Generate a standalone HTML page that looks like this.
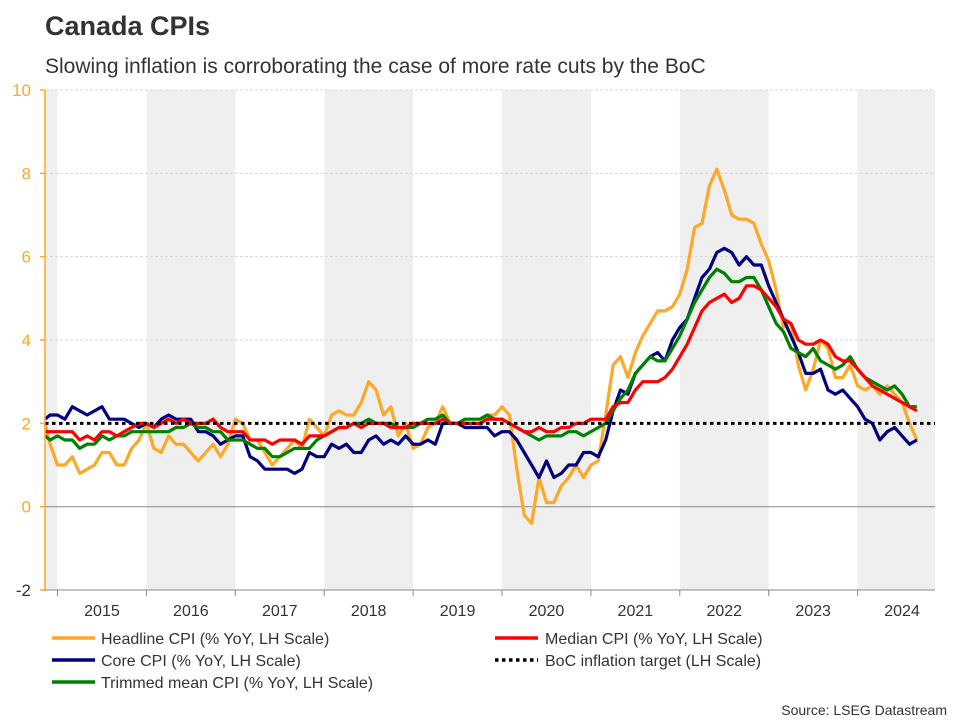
<!DOCTYPE html>
<html><head><meta charset="utf-8"><style>
body{margin:0;background:#fff;}
svg{display:block;font-family:"Liberation Sans",Arial,sans-serif;}
</style></head><body>
<svg id="c" width="960" height="720" viewBox="0 0 960 720" xmlns="http://www.w3.org/2000/svg">
<rect width="960" height="720" fill="#fff"/>
<text x="45" y="35" font-size="27" font-weight="bold" fill="#333">Canada CPIs</text>
<text x="45" y="73" font-size="21" fill="#333">Slowing inflation is corroborating the case of more rate cuts by the BoC</text>
<g id="bands" fill="#efefef"></g>
<g id="grid"></g>
<g id="series" fill="none" stroke-width="3.2" stroke-linejoin="round"></g>
<g id="axes"></g>
<g font-size="16" fill="#333">
<line x1="52" y1="638" x2="95" y2="638" stroke="#FFA726" stroke-width="3.5"/>
<text x="101" y="644">Headline CPI (% YoY, LH Scale)</text>
<line x1="52" y1="660" x2="95" y2="660" stroke="#000080" stroke-width="3.5"/>
<text x="101" y="666">Core CPI (% YoY, LH Scale)</text>
<line x1="52" y1="682" x2="95" y2="682" stroke="#008000" stroke-width="3.5"/>
<text x="101" y="688">Trimmed mean CPI (% YoY, LH Scale)</text>
<line x1="495" y1="638" x2="538" y2="638" stroke="#ff0000" stroke-width="3.5"/>
<text x="545" y="644">Median CPI (% YoY, LH Scale)</text>
<line x1="495" y1="660" x2="538" y2="660" stroke="#000" stroke-width="3.5" stroke-dasharray="3.5 3.5"/>
<text x="545" y="666">BoC inflation target (LH Scale)</text>
</g>
<text x="947" y="715" font-size="14" fill="#333" text-anchor="end">Source: LSEG Datastream</text>
</svg>
<script>
var NS="http://www.w3.org/2000/svg";
function el(p,t,a,txt){var e=document.createElementNS(NS,t);for(var k in a)e.setAttribute(k,a[k]);if(txt!==undefined)e.textContent=txt;document.getElementById(p).appendChild(e);return e;}
var L=45,R=935,T=90,B=590;
function Y(v){return 506.7-v*41.67;}
var yw=88.9;function yx(yr){return 57.5+(yr-2015)*yw;}
function X(i){return 57.5+(i-2)*yw/12;}
el("bands","rect",{x:L,y:T,width:yx(2015)-L,height:B-T});
[2016,2018,2020,2022].forEach(function(y){el("bands","rect",{x:yx(y),y:T,width:yw,height:B-T});});
el("bands","rect",{x:yx(2024),y:T,width:R-yx(2024),height:B-T});
[4,6,8,10].forEach(function(v){el("grid","line",{x1:L,x2:R,y1:Y(v),y2:Y(v),stroke:"#d8d8d8","stroke-width":1,"stroke-dasharray":"3 2"});});
el("grid","line",{x1:L,x2:R,y1:Y(0),y2:Y(0),stroke:"#888","stroke-width":1});
var H=[2.0,1.5, 1.0,1.0,1.2,0.8,0.9,1.0,1.3,1.3,1.0,1.0,1.4,1.6, 2.0,1.4,1.3,1.7,1.5,1.5,1.3,1.1,1.3,1.5,1.2,1.5, 2.1,2.0,1.6,1.6,1.3,1.0,1.2,1.4,1.6,1.4,2.1,1.9, 1.7,2.2,2.3,2.2,2.2,2.5,3.0,2.8,2.2,2.4,1.7,2.0, 1.4,1.5,1.9,2.0,2.4,2.0,2.0,1.9,1.9,1.9,2.2,2.2, 2.4,2.2,0.9,-0.2,-0.4,0.7,0.1,0.1,0.5,0.7,1.0,0.7, 1.0,1.1,2.2,3.4,3.6,3.1,3.7,4.1,4.4,4.7,4.7,4.8, 5.1,5.7,6.7,6.8,7.7,8.1,7.6,7.0,6.9,6.9,6.8,6.3, 5.9,5.2,4.3,4.4,3.4,2.8,3.3,4.0,3.8,3.1,3.1,3.4, 2.9,2.8,2.9,2.7,2.9,2.7,2.5,2.0,1.6];
var M=[1.8,1.8, 1.8,1.8,1.8,1.6,1.7,1.6,1.8,1.8,1.7,1.8,1.9,2.0, 2.0,1.9,2.0,2.1,2.0,2.1,2.0,2.0,2.0,2.1,1.9,1.8, 1.8,1.8,1.6,1.6,1.6,1.5,1.6,1.6,1.6,1.5,1.7,1.7, 1.7,1.8,1.9,1.9,2.0,1.9,2.0,2.0,2.0,1.9,1.9,1.9, 2.0,2.0,2.0,2.0,2.1,2.0,2.0,2.0,2.0,2.0,2.1,2.1, 2.1,2.0,1.9,1.8,1.8,1.9,1.8,1.8,1.9,1.9,2.0,2.0, 2.1,2.1,2.1,2.4,2.5,2.5,2.8,3.0,3.0,3.0,3.1,3.3, 3.6,3.9,4.3,4.7,4.9,5.0,5.1,4.9,5.0,5.3,5.3,5.2, 5.0,4.8,4.5,4.4,4.0,3.9,3.9,4.0,3.9,3.6,3.5,3.5, 3.3,3.1,2.9,2.8,2.7,2.6,2.5,2.4,2.3];
var C=[2.1,2.2, 2.2,2.1,2.4,2.3,2.2,2.3,2.4,2.1,2.1,2.1,2.0,1.9, 2.0,1.9,2.1,2.2,2.1,2.1,2.1,1.8,1.8,1.7,1.5,1.6, 1.7,1.7,1.2,1.1,0.9,0.9,0.9,0.9,0.8,0.9,1.3,1.2, 1.2,1.5,1.4,1.5,1.3,1.3,1.6,1.7,1.5,1.6,1.5,1.7, 1.5,1.5,1.6,1.5,2.0,2.0,2.0,1.9,1.9,1.9,1.9,1.7, 1.8,1.8,1.6,1.3,1.0,0.7,1.1,0.7,0.8,1.0,1.0,1.3, 1.3,1.2,1.6,2.3,2.8,2.7,3.2,3.4,3.6,3.7,3.5,4.0, 4.3,4.5,5.0,5.5,5.7,6.1,6.2,6.1,5.8,6.0,5.8,5.8, 5.3,4.9,4.5,4.1,3.7,3.2,3.2,3.3,2.8,2.7,2.8,2.6, 2.4,2.1,2.0,1.6,1.8,1.9,1.7,1.5,1.6];
var G=[1.7,1.6, 1.7,1.6,1.6,1.4,1.5,1.5,1.7,1.6,1.7,1.7,1.8,1.8, 1.8,1.8,1.8,1.8,1.9,1.9,2.0,1.9,1.9,1.8,1.8,1.6, 1.6,1.6,1.5,1.4,1.4,1.2,1.2,1.3,1.4,1.4,1.4,1.6, 1.7,1.8,1.9,1.9,2.0,2.0,2.1,2.0,2.0,2.0,1.9,1.9, 1.9,2.0,2.1,2.1,2.2,2.0,2.0,2.1,2.1,2.1,2.2,2.1, 2.1,2.0,1.9,1.8,1.7,1.6,1.7,1.7,1.7,1.8,1.8,1.7, 1.8,1.9,2.0,2.3,2.6,2.8,3.2,3.4,3.6,3.5,3.5,3.8, 4.1,4.5,4.9,5.2,5.5,5.7,5.6,5.4,5.4,5.5,5.5,5.2, 4.8,4.4,4.2,3.8,3.7,3.6,3.8,3.5,3.4,3.3,3.4,3.6, 3.3,3.1,3.0,2.9,2.8,2.9,2.7,2.4,2.4];
function pts(a){var s=[];for(var i=0;i<a.length;i++){var x=X(i);if(x<L)x=L;s.push(x.toFixed(1)+","+Y(a[i]).toFixed(1));}return s.join(" ");}
el("series","polyline",{points:pts(H),stroke:"#FFA726"});
el("series","polyline",{points:pts(C),stroke:"#000080"});
el("series","polyline",{points:pts(G),stroke:"#008000"});
el("series","polyline",{points:pts(M),stroke:"#ff0000"});
el("series","line",{x1:L,x2:R,y1:Y(2),y2:Y(2),stroke:"#000","stroke-width":3,"stroke-dasharray":"3.5 3.5"});
el("axes","line",{x1:L,x2:L,y1:T,y2:B,stroke:"#FFA726","stroke-width":1.5});
el("axes","line",{x1:L,x2:R,y1:B,y2:B,stroke:"#888","stroke-width":1});
[-2,0,2,4,6,8,10].forEach(function(v){el("axes","line",{x1:L-5,x2:L,y1:Y(v),y2:Y(v),stroke:"#FFA726","stroke-width":1.5});el("axes","text",{x:31,y:Y(v)+6,"font-size":17,fill:(v==-2?"#333":"#FFA726"),"text-anchor":"end"},String(v));});
for(var y=2015;y<=2024;y++){var x=yx(y);el("axes","line",{x1:x,x2:x,y1:B,y2:B+6,stroke:"#888","stroke-width":1});el("axes","text",{x:x+yw/2,y:616,"font-size":16,fill:"#333","text-anchor":"middle"},String(y));}
</script>
</body></html>
